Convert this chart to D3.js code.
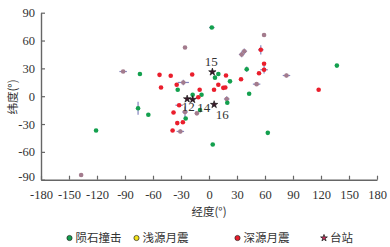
<!DOCTYPE html>
<html><head><meta charset="utf-8">
<script src="https://cdn.jsdelivr.net/npm/d3@7"></script>
<style>
html,body{margin:0;padding:0;background:#fff;}
svg{display:block;}
</style></head>
<body><svg id="chart" width="390" height="247"></svg>
<script>
// [lon, lat, errLon, errLat]
const impacts = [
  [-121,-37,0,0],[-74,24,0,0],[-76,-13,0,7],[-65,-20,0,0],[-33.5,7,0,0],
  [-17.5,1.5,0,0],[-25,-24,0,0],[3,74,3,0],[10,24,0,0],[6.4,20,0,0],
  [22.5,16,0,0],[43,2.6,0,0],[40.4,29,0,3],[137,33,0,0],[-8,1.5,0,0],
  [19.6,-7,0,0],[-9.6,-15,0,0],[63,-39.5,0,0],[4,-52,0,0]
];
const shallow = [
  [-92,26.6,4,0],[-25.7,52.5,0,0],[-27.5,14.8,6,3],[-137,-85,0,0],[-25.7,-17,3,6],
  [-13,-18.5,0,0],[-30.7,-38,4,2],[59,66,2,0],[35,45,3,3],[37.8,48.5,3,3],
  [51,13,4,0],[83,22.3,4,2],[19,-3,3,3]
];
const deep = [
  [-53,23,0,0],[-41,22,0,0],[-18,23.4,0,0],[-51.4,9.4,0,0],[-34.6,12.3,0,0],
  [-10,7,0,0],[-11.5,-1.2,0,0],[-32,-9.7,4,0],[-38,-17.6,0,0],[-34,-29,0,0],
  [-28,-28,0,0],[-39,-37,0,0],[18.2,22.3,0,0],[10,12.3,0,0],[34.3,18.3,0,0],
  [15.3,9,0,0],[17.5,9.4,0,0],[5.4,7,0,0],[53.6,24.8,0,0],[59,35,0,0],
  [55.5,50,3,5],[117.5,7,0,0],[59,28.5,4,4]
];
const stations = [
  {name:"12", lon:-23.4, lat:-3.0},
  {name:"14", lon:-17.5, lat:-3.6},
  {name:"15", lon:3.6, lat:26.1},
  {name:"16", lon:5.5, lat:-9.0}
];
const xTicks = [-180,-150,-120,-90,-60,-30,0,30,60,90,120,150,180];
const yTicks = [-90,-60,-30,0,30,60,90];
const legendLabels = ["陨石撞击","浅源月震","深源月震","台站"];
const xTitle = "经度(°)", yTitle = "纬度(°)";

const colors = {impact:"#13a04e", shallow:"#a37b8d", deep:"#ea1e2c", shallowLegend:"#f2e21a", bar:"#6f6fb3"};
const svg = d3.select("#chart");
const x = d3.scaleLinear().domain([-180,180]).range([41,377]);
const y = d3.scaleLinear().domain([-90,90]).range([179.7,12.7]);
const serif = "'Liberation Serif','Times New Roman',serif";
const cjk = "'Noto Sans CJK SC','Noto Sans',sans-serif";
const fmt = d => String(d);

// axes
const xAxis = svg.append("g").attr("transform","translate(0,179.7)")
  .call(d3.axisBottom(x).tickValues(xTicks).tickFormat(fmt).tickSizeInner(-4).tickSizeOuter(0).tickPadding(8));
const yAxis = svg.append("g").attr("transform","translate(41,0)")
  .call(d3.axisLeft(y).tickValues(yTicks).tickFormat(fmt).tickSizeInner(-4).tickSizeOuter(0).tickPadding(6));
[xAxis,yAxis].forEach(g=>{
  g.select(".domain").attr("stroke","#666").attr("stroke-width",1.4);
  g.selectAll(".tick line").attr("stroke","#666").attr("stroke-width",1.2);
  g.selectAll(".tick text").attr("fill","#333").style("font-family",serif).style("font-size","12.5px");
});
yAxis.selectAll(".tick text").filter(d=>d===-90).attr("dy","0.05em");
xAxis.selectAll(".tick text").attr("dy","0.9em");

svg.append("text").attr("x",209).attr("y",216).attr("text-anchor","middle")
  .attr("fill","#333").style("font-family",cjk).style("font-size","11.5px").text(xTitle);
svg.append("text").attr("transform","translate(17,97) rotate(-90)").attr("text-anchor","middle")
  .attr("fill","#333").style("font-family",cjk).style("font-size","11.5px").text(yTitle);

function drawSeries(data, color){
  const g = svg.append("g");
  data.forEach(d=>{
    const cx = x(d[0]), cy = y(d[1]);
    if (d[2]>0) g.append("line").attr("x1",x(d[0]-d[2])).attr("x2",x(d[0]+d[2])).attr("y1",cy).attr("y2",cy)
      .attr("stroke",colors.bar).attr("stroke-width",1.2).attr("opacity",0.85);
    if (d[3]>0) g.append("line").attr("x1",cx).attr("x2",cx).attr("y1",y(d[1]-d[3])).attr("y2",y(d[1]+d[3]))
      .attr("stroke",colors.bar).attr("stroke-width",1.2).attr("opacity",0.85);
  });
  g.selectAll("circle").data(data).join("circle")
    .attr("cx",d=>x(d[0])).attr("cy",d=>y(d[1])).attr("r",2.3).attr("fill",color);
}
drawSeries(shallow, colors.shallow);
drawSeries(impacts, colors.impact);
drawSeries(deep, colors.deep);

const star = d3.symbol().type(d3.symbolStar).size(17);
svg.append("g").selectAll("path").data(stations).join("path")
  .attr("d",star).attr("transform",d=>`translate(${x(d.lon)},${y(d.lat)})`)
  .attr("fill","#3a1a2a").attr("stroke","#111").attr("stroke-width",0.6);
const labelOffset = {"12":[1,12],"14":[11,12],"15":[-1,-6],"16":[8,14]};
svg.append("g").selectAll("text").data(stations).join("text")
  .attr("x",d=>x(d.lon)+labelOffset[d.name][0]).attr("y",d=>y(d.lat)+labelOffset[d.name][1])
  .attr("text-anchor","middle").attr("fill","#333")
  .style("font-family",serif).style("font-size","13px").text(d=>d.name);

// legend
const legendX = [69.5,136.5,237.5,324];
const ly = 238;
const lg = svg.append("g");
[colors.impact, colors.shallowLegend, colors.deep].forEach((c,i)=>{
  lg.append("circle").attr("cx",legendX[i]).attr("cy",ly).attr("r",2.6).attr("fill",c).attr("stroke","#222").attr("stroke-width",0.7);
});
lg.append("path").attr("d",d3.symbol().type(d3.symbolStar).size(14)).attr("transform",`translate(${legendX[3]},${ly})`)
  .attr("fill","#c8305c").attr("stroke","#222").attr("stroke-width",0.8);
legendLabels.forEach((t,i)=>{
  lg.append("text").attr("x",legendX[i]+6).attr("y",ly+4).attr("fill","#333")
    .style("font-family",cjk).style("font-size","11.5px").text(t);
});
</script></body></html>
